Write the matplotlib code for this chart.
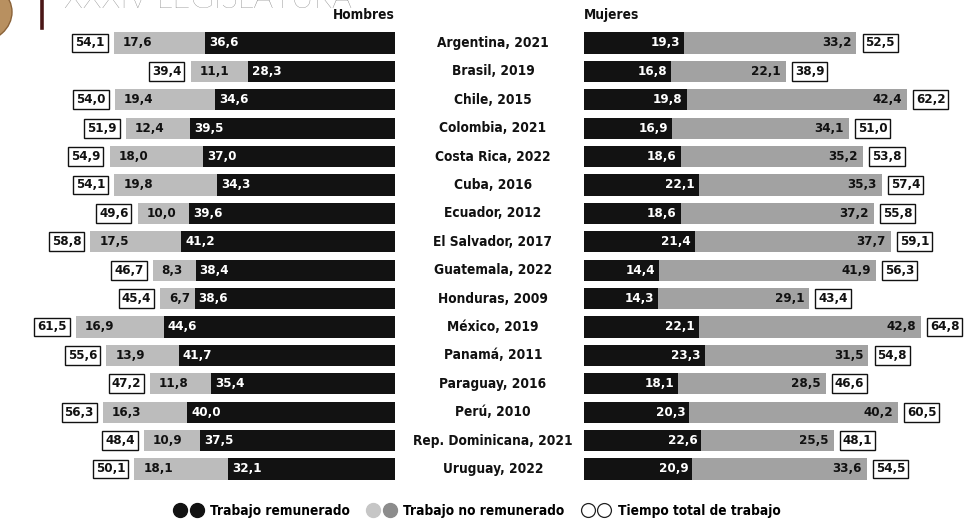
import matplotlib
matplotlib.use('Agg')
import matplotlib.pyplot as plt
from matplotlib import font_manager
from matplotlib.font_manager import FontProperties
from matplotlib.lines import Line2D
from matplotlib.legend_handler import HandlerTuple
from matplotlib.patches import Ellipse
from matplotlib.transforms import blended_transform_factory

# ---------------- data ----------------
countries = ["Argentina, 2021", "Brasil, 2019", "Chile, 2015", "Colombia, 2021",
             "Costa Rica, 2022", "Cuba, 2016", "Ecuador, 2012", "El Salvador, 2017",
             "Guatemala, 2022", "Honduras, 2009", "México, 2019", "Panamá, 2011",
             "Paraguay, 2016", "Perú, 2010", "Rep. Dominicana, 2021", "Uruguay, 2022"]

men_paid = [36.6, 28.3, 34.6, 39.5, 37.0, 34.3, 39.6, 41.2, 38.4, 38.6, 44.6, 41.7, 35.4, 40.0, 37.5, 32.1]
men_unpaid = [17.6, 11.1, 19.4, 12.4, 18.0, 19.8, 10.0, 17.5, 8.3, 6.7, 16.9, 13.9, 11.8, 16.3, 10.9, 18.1]
men_total = [54.1, 39.4, 54.0, 51.9, 54.9, 54.1, 49.6, 58.8, 46.7, 45.4, 61.5, 55.6, 47.2, 56.3, 48.4, 50.1]

women_paid = [19.3, 16.8, 19.8, 16.9, 18.6, 22.1, 18.6, 21.4, 14.4, 14.3, 22.1, 23.3, 18.1, 20.3, 22.6, 20.9]
women_unpaid = [33.2, 22.1, 42.4, 34.1, 35.2, 35.3, 37.2, 37.7, 41.9, 29.1, 42.8, 31.5, 28.5, 40.2, 25.5, 33.6]
women_total = [52.5, 38.9, 62.2, 51.0, 53.8, 57.4, 55.8, 59.1, 56.3, 43.4, 64.8, 54.8, 46.6, 60.5, 48.1, 54.5]

legend_labels = ["Trabajo remunerado", "Trabajo no remunerado", "Tiempo total de trabajo"]

# ---------------- font: prefer a condensed bold face ----------------
def find_condensed():
    best = None
    for f in font_manager.fontManager.ttflist:
        nm = (f.name + ' ' + f.fname).lower()
        cond = (f.stretch in ('condensed', 'semi-condensed', 'extra-condensed')
                or 'condensed' in nm or 'narrow' in nm)
        if not cond or 'italic' in nm or f.style != 'normal':
            continue
        if 'extra' in nm or 'ultra' in nm or 'semicondensed' in nm or 'semi' in nm:
            continue
        w = f.weight if isinstance(f.weight, int) else 400
        if w in (600, 700):
            score = abs(w - 700)
            if best is None or score < best[0]:
                best = (score, f.fname)
    return best[1] if best else None


path = find_condensed()
if path:
    FS_T, FS_V = 9.8, 9.5
    def fp(size):
        return FontProperties(fname=path, size=size)
else:
    FS_T, FS_V = 8.8, 8.4
    def fp(size):
        return FontProperties(family='Roboto', weight='bold', size=size)

BLACK = '#121212'
GRAY_M = '#bcbcbc'
GRAY_W = '#a2a2a2'

W, H = 965, 522
fig = plt.figure(figsize=(W / 100, H / 100), dpi=100)
fig.patch.set_facecolor('white')


def fx(px):
    return px / W


def fy(py):
    return 1 - py / H


scale = 5.19  # px per hour
top_px, bot_px = 28.8, 483.2
ax_m = fig.add_axes([0, fy(bot_px), fx(395), (bot_px - top_px) / H])
ax_w = fig.add_axes([fx(584), fy(bot_px), fx(W - 584), (bot_px - top_px) / H])
n = len(countries)
y = list(range(n))
for ax in (ax_m, ax_w):
    ax.set_ylim(n - 0.5, -0.5)
    ax.axis('off')
ax_m.set_xlim(395 / scale, 0)
ax_w.set_xlim(0, (W - 584) / scale)

bh = 0.74
men_sum = [p + u for p, u in zip(men_paid, men_unpaid)]
women_sum = [p + u for p, u in zip(women_paid, women_unpaid)]

ax_m.barh(y, men_paid, height=bh, color=BLACK)
ax_m.barh(y, men_unpaid, left=men_paid, height=bh, color=GRAY_M)
ax_w.barh(y, women_paid, height=bh, color=BLACK)
ax_w.barh(y, women_unpaid, left=women_paid, height=bh, color=GRAY_W)


def fmt(v):
    return f"{v:.1f}".replace('.', ',')


pt = 72 / 100  # points per pixel
box = dict(boxstyle='square,pad=0.22', fc='white', ec='#111111', lw=1.0)


def put(ax, txt, x, i, dx, ha, color, bbox=None):
    ax.annotate(txt, (x, i), xytext=(dx * pt, 0), textcoords='offset points',
                ha=ha, va='center', color=color, fontproperties=fp(FS_V), bbox=bbox)


for i in range(n):
    put(ax_m, fmt(men_paid[i]), men_paid[i], i, 4, 'left', 'white')
    put(ax_m, fmt(men_unpaid[i]), men_sum[i], i, 9, 'left', '#111111')
    put(ax_m, fmt(men_total[i]), men_sum[i], i, -9, 'right', '#111111', box)
    put(ax_w, fmt(women_paid[i]), women_paid[i], i, -4, 'right', 'white')
    put(ax_w, fmt(women_unpaid[i]), women_sum[i], i, -5, 'right', '#111111')
    put(ax_w, fmt(women_total[i]), women_sum[i], i, 9, 'left', '#111111', box)

# country labels
tr = blended_transform_factory(fig.transFigure, ax_m.transData)
for i, c in enumerate(countries):
    fig.text(fx(493), i, c, transform=tr, ha='center', va='center',
             fontproperties=fp(FS_T), color='#111111')

# headers
fig.text(fx(395), fy(15), "Hombres", ha='right', va='center',
         fontproperties=fp(FS_T), color='#111111')
fig.text(fx(584), fy(15), "Mujeres", ha='left', va='center',
         fontproperties=fp(FS_T), color='#111111')

# page decorations (partial header of the scanned page)
fig.text(fx(64), fy(8), "XXXIV LEGISLATURA", ha='left', va='baseline',
         fontfamily='Lato', fontweight='light', fontsize=22.5, color='#777777')
fig.add_artist(Line2D([fx(42), fx(42)], [fy(0), fy(28)], color='#4a1616', lw=2.6,
                      transform=fig.transFigure))
fig.add_artist(Ellipse((fx(-22), fy(12)), 68 / W, 60 / H, transform=fig.transFigure,
                       fc='#b89060', ec='#8a6238', lw=1))

# legend
ms = 10
h1 = (Line2D([], [], marker='o', ls='', color=BLACK, ms=ms),
      Line2D([], [], marker='o', ls='', color=BLACK, ms=ms))
h2 = (Line2D([], [], marker='o', ls='', color='#c6c6c6', ms=ms),
      Line2D([], [], marker='o', ls='', color='#8c8c8c', ms=ms))
h3 = (Line2D([], [], marker='o', ls='', mfc='white', mec='#222222', mew=0.9, ms=ms),
      Line2D([], [], marker='o', ls='', mfc='white', mec='#222222', mew=0.9, ms=ms))
fig.legend([h1, h2, h3], legend_labels,
           handler_map={tuple: HandlerTuple(ndivide=None, pad=0.2)},
           loc='center', bbox_to_anchor=(fx(477), fy(511)), ncol=3, frameon=False,
           prop=fp(FS_T),
           handlelength=2.2, handletextpad=0.5, columnspacing=1.2,
           borderpad=0, borderaxespad=0)

fig.savefig('out.png', dpi=100, facecolor='white')
